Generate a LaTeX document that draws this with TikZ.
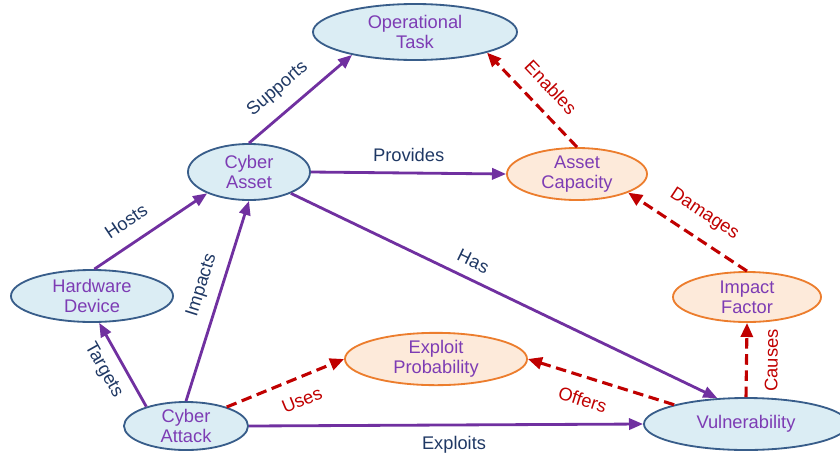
\documentclass[tikz,border=0pt]{standalone}
\usepackage{fontspec}
\setmainfont{Liberation Sans}
\usetikzlibrary{arrows.meta, shapes.geometric}

\definecolor{boxblue}{RGB}{219,237,244}
\definecolor{edgeblue}{RGB}{56,93,138}
\definecolor{boxorange}{RGB}{253,234,218}
\definecolor{edgeorange}{RGB}{236,125,45}
\definecolor{textpurple}{RGB}{125,60,180}
\definecolor{linkpurple}{RGB}{112,48,160}
\definecolor{labelnavy}{RGB}{31,56,100}
\definecolor{riskred}{RGB}{192,0,0}

\begin{document}
\begin{tikzpicture}[
  x=0.025cm, y=-0.025cm,
  entity/.style={draw=edgeblue, fill=boxblue, line width=1.3pt, ellipse, inner sep=0pt, align=center, text=textpurple, font=\fontsize{13}{14.2}\selectfont},
  factor/.style={entity, draw=edgeorange, fill=boxorange},
  link/.style={draw=linkpurple, line width=2pt, -{Triangle[length=10pt,width=8pt]}},
  risk/.style={draw=riskred, line width=2.2pt, dash pattern=on 7.5pt off 4pt, -{Triangle[length=10pt,width=8.5pt]}},
  linklabel/.style={text=labelnavy, font=\fontsize{13}{14.2}\selectfont, inner sep=7pt, sloped},
  risklabel/.style={linklabel, text=riskred, inner sep=10pt}
]
\useasboundingbox (0,0) rectangle (840,455);

\node[entity, minimum width=5.1cm, minimum height=1.4cm] (task) at (415,32) {Operational\\Task};
\node[entity, minimum width=3.05cm, minimum height=1.4cm] (asset) at (249,172) {Cyber\\Asset};
\node[factor, minimum width=3.5cm, minimum height=1.3cm] (capacity) at (577,174) {Asset\\Capacity};
\node[entity, minimum width=4.05cm, minimum height=1.3cm] (hardware) at (92,296) {Hardware\\Device};
\node[factor, minimum width=3.7cm, minimum height=1.25cm] (impact) at (747,297) {Impact\\Factor};
\node[factor, minimum width=4.55cm, minimum height=1.3cm] (probability) at (436,359) {Exploit\\Probability};
\node[entity, minimum width=3.1cm, minimum height=1.2cm] (attack) at (186,426) {Cyber\\Attack};
\node[entity, minimum width=5.1cm, minimum height=1.3cm] (vuln) at (746,424) {Vulnerability};

\draw[link] (asset.north) -- node[linklabel, above, inner sep=9pt, pos=0.42] {Supports} (task.200);
\draw[link] (asset.east) -- node[linklabel, above] {Provides} (capacity.west);
\draw[link] (hardware.85) -- node[linklabel, above, inner sep=10pt, pos=0.39] {Hosts} (asset.207);
\draw[link] (attack.north) -- node[linklabel, above, pos=0.55] {Impacts} (asset.south);
\draw[link] (attack.154) -- node[linklabel, below, pos=0.55] {Targets} (hardware.285);
\draw[link] (asset.333) -- node[linklabel, above, pos=0.41] {Has} (vuln.138);
\draw[link] (attack.east) -- node[linklabel, below, pos=0.52] {Exploits} (vuln.west);

\draw[risk] (attack.25) -- node[risklabel, below, pos=0.57] {Uses} (probability.west);
\draw[risk] (vuln.165) -- node[risklabel, below, pos=0.58] {Offers} (probability.east);
\draw[risk] (vuln.north) -- node[risklabel, below, inner sep=12pt] {Causes} (impact.south);
\draw[risk] (impact.north) -- node[risklabel, above, pos=0.47] {Damages} (capacity.340);
\draw[risk] (capacity.north) -- node[risklabel, above, pos=0.47] {Enables} (task.344);
\end{tikzpicture}
\end{document}
